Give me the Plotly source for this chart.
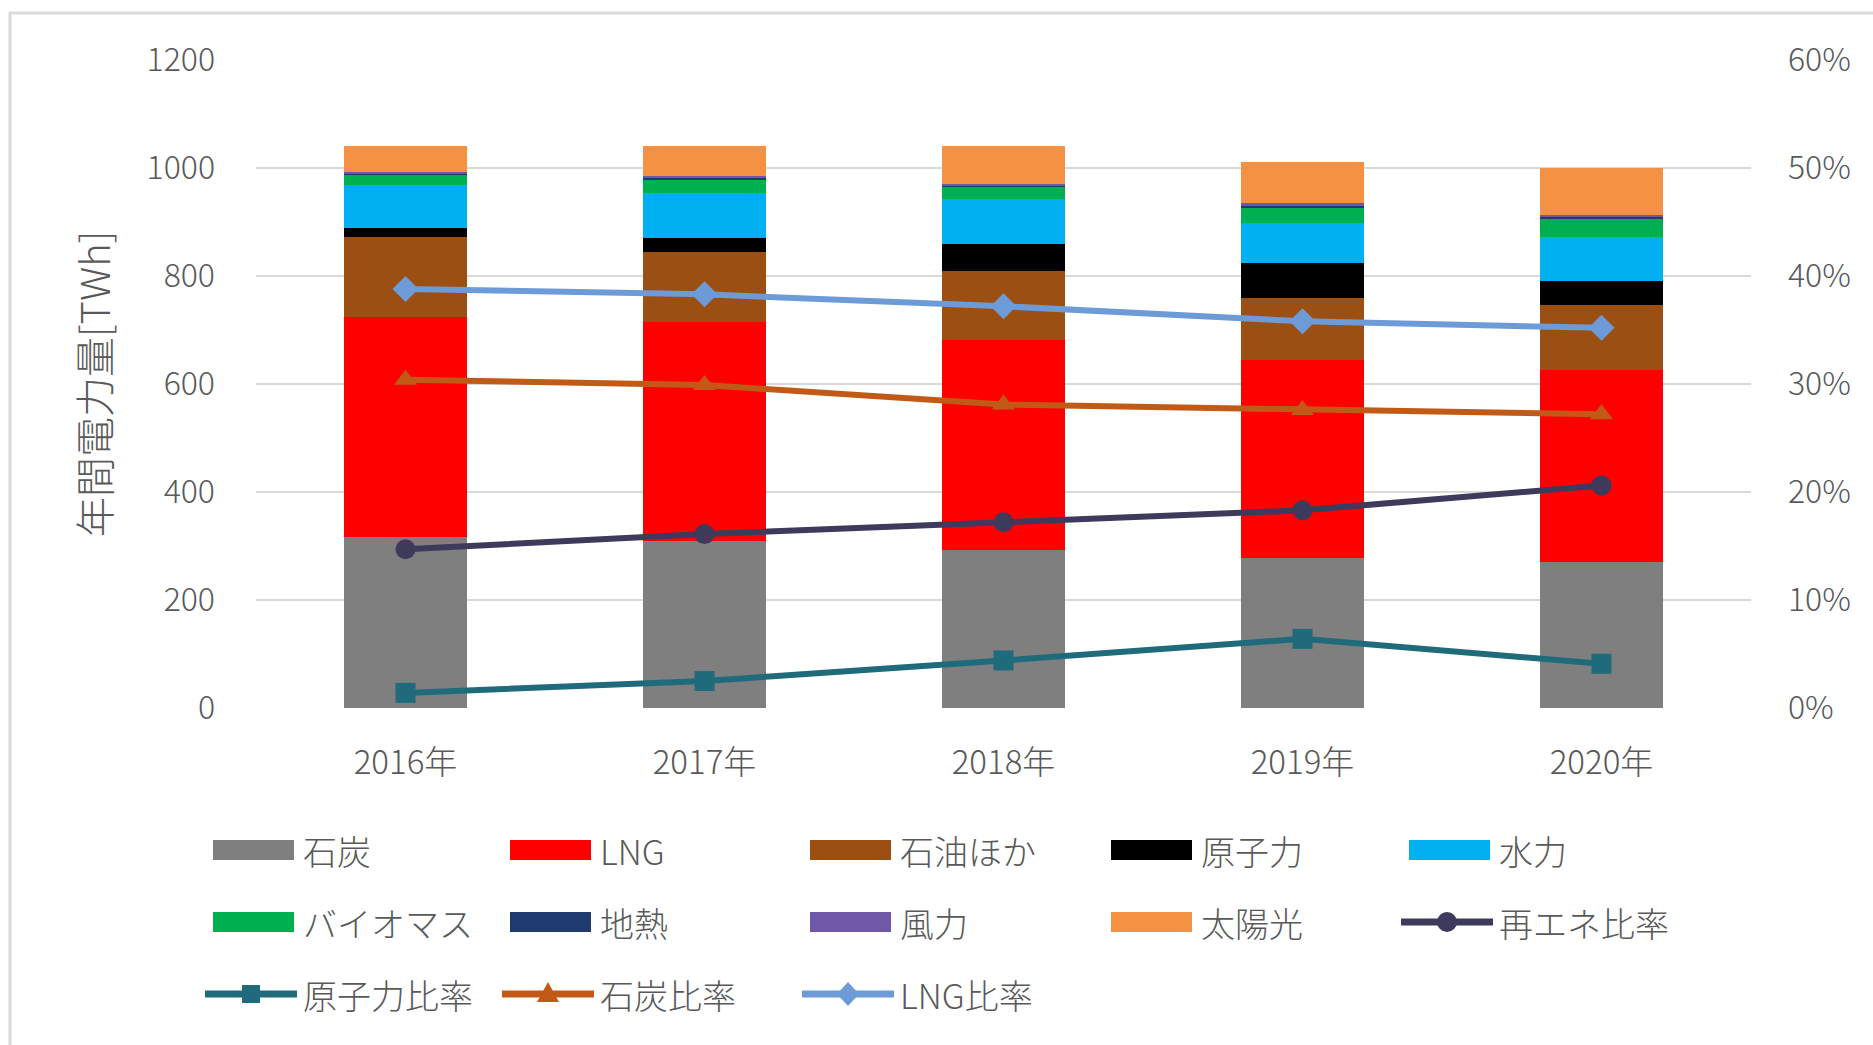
import plotly.graph_objects as go

# ---- data -------------------------------------------------------------
years = ["2016年", "2017年", "2018年", "2019年", "2020年"]

# annual generation by source [TWh]
coal = [317, 310, 292, 278, 270]
lng = [407, 404, 389, 366, 356]
oil = [148, 131, 128, 115, 121]
nuclear = [16, 26, 50, 66, 43]
hydro = [80, 83, 83, 73, 82]
biomass = [20, 25, 24, 28, 34]
geothermal = [2, 2, 2, 3, 3]
wind = [3, 5, 3, 5.5, 4]
solar = [48, 55, 70, 77, 87]

# shares of total generation [%]
renew_ratio = [14.7, 16.1, 17.2, 18.3, 20.6]
nuclear_ratio = [1.4, 2.5, 4.4, 6.4, 4.1]
coal_ratio = [30.4, 29.9, 28.1, 27.6, 27.2]
lng_ratio = [38.8, 38.3, 37.2, 35.8, 35.2]

bar_names = ["石炭", "LNG", "石油ほか", "原子力", "水力", "バイオマス", "地熱", "風力", "太陽光"]
bar_values = [coal, lng, oil, nuclear, hydro, biomass, geothermal, wind, solar]
line_names = ["再エネ比率", "原子力比率", "石炭比率", "LNG比率"]
line_values = [renew_ratio, nuclear_ratio, coal_ratio, lng_ratio]

# ---- styling ----------------------------------------------------------
bar_colors = ["#7f7f7f", "#ff0000", "#9c4f13", "#000000", "#00b0f0",
              "#00b050", "#1f3a6e", "#7058a8", "#f59142"]
line_colors = ["#3d3a5c", "#1f6b7c", "#c25a17", "#6d9bd8"]
line_symbols = ["circle", "square", "triangle-up", "diamond"]

FONT = "Noto Sans CJK JP, Open Sans, sans-serif"
TXT = "#595959"
W, H = 1873, 1045
L, R, T, B = 256, 122, 60, 337
PW, PH = W - L - R, H - T - B
BOTTOM_PX = H - B


def px_x(px):
    return (px - L) / PW


def px_y(py):
    return (BOTTOM_PX - py) / PH


fig = go.Figure()

for name, vals, col in zip(bar_names, bar_values, bar_colors):
    fig.add_trace(go.Bar(x=years, y=vals, name=name, marker=dict(color=col, line=dict(width=0)),
                         showlegend=False))

for name, vals, col, sym in zip(line_names, line_values, line_colors, line_symbols):
    fig.add_trace(go.Scatter(x=years, y=vals, name=name, yaxis="y2", mode="lines+markers",
                             line=dict(color=col, width=6),
                             marker=dict(symbol=sym, size=20, color=col),
                             showlegend=False))

# ---- legend drawn below the plot --------------------------------------
col_x0 = [213, 510, 810, 1111, 1409]
row_y = [850, 922, 994]
entries = [(n, "bar", c, None) for n, c in zip(bar_names, bar_colors)]
entries += [(n, "line", c, s) for n, c, s in zip(line_names, line_colors, line_symbols)]

shapes = []
annotations = []
for i, (name, kind, col, sym) in enumerate(entries):
    r, c = divmod(i, 5)
    x0 = col_x0[c]
    yc = row_y[r]
    if kind == "bar":
        shapes.append(dict(type="rect", xref="paper", yref="paper",
                           x0=px_x(x0), x1=px_x(x0 + 81), y0=px_y(yc - 10), y1=px_y(yc + 10),
                           fillcolor=col, line=dict(width=0)))
    else:
        shapes.append(dict(type="line", xref="paper", yref="paper",
                           x0=px_x(x0 - 8), x1=px_x(x0 + 84), y0=px_y(yc), y1=px_y(yc),
                           line=dict(color=col, width=7)))
        mx = x0 + 38
        s = 10
        if sym == "circle":
            shapes.append(dict(type="circle", xref="paper", yref="paper",
                               x0=px_x(mx - s), x1=px_x(mx + s), y0=px_y(yc + s), y1=px_y(yc - s),
                               fillcolor=col, line=dict(width=0)))
        elif sym == "square":
            shapes.append(dict(type="rect", xref="paper", yref="paper",
                               x0=px_x(mx - 9), x1=px_x(mx + 9), y0=px_y(yc + 9), y1=px_y(yc - 9),
                               fillcolor=col, line=dict(width=0)))
        elif sym == "triangle-up":
            pts = [(mx, yc - 12), (mx + 11, yc + 8), (mx - 11, yc + 8)]
            path = "M " + " L ".join(f"{px_x(a)},{px_y(b)}" for a, b in pts) + " Z"
            shapes.append(dict(type="path", xref="paper", yref="paper", path=path,
                               fillcolor=col, line=dict(width=0)))
        else:
            pts = [(mx, yc - 12), (mx + 11, yc), (mx, yc + 12), (mx - 11, yc)]
            path = "M " + " L ".join(f"{px_x(a)},{px_y(b)}" for a, b in pts) + " Z"
            shapes.append(dict(type="path", xref="paper", yref="paper", path=path,
                               fillcolor=col, line=dict(width=0)))
    annotations.append(dict(text=name, xref="paper", yref="paper",
                            x=px_x(x0 + 88), y=px_y(yc), xanchor="left", yanchor="middle",
                            showarrow=False,
                            font=dict(family=FONT, size=34, color=TXT, weight=300)))

# axis title
annotations.append(dict(text="年間電力量[TWh]", xref="paper", yref="paper",
                        x=px_x(93), y=0.5, xanchor="center", yanchor="middle", textangle=-90,
                        showarrow=False, font=dict(family=FONT, size=40, color=TXT, weight=300)))

# light frame round the chart
shapes.append(dict(type="rect", xref="paper", yref="paper", layer="below",
                   x0=px_x(10), x1=px_x(W + 20), y0=px_y(13), y1=px_y(H + 20),
                   line=dict(color="#d9d9d9", width=3), fillcolor="rgba(0,0,0,0)"))

fig.update_layout(
    width=W, height=H,
    margin=dict(l=L, r=R, t=T, b=B, autoexpand=False),
    barmode="stack", bargap=0.59,
    plot_bgcolor="white", paper_bgcolor="white",
    font=dict(family=FONT, color=TXT),
    showlegend=False,
    xaxis=dict(type="category", showgrid=False, showline=False, zeroline=False,
               ticks="", ticklabelstandoff=32,
               tickfont=dict(size=33, color=TXT, weight=300)),
    yaxis=dict(range=[0, 1200], dtick=200, showgrid=True, gridcolor="#d9d9d9", gridwidth=2,
               zeroline=False, showline=False, ticks="", ticklabelstandoff=40,
               tickfont=dict(size=32, color=TXT, weight=300)),
    yaxis2=dict(range=[0, 60], dtick=10, ticksuffix="%", overlaying="y", side="right",
                showgrid=False, zeroline=False, showline=False, ticks="", ticklabelstandoff=36,
                tickfont=dict(size=32, color=TXT, weight=300)),
    shapes=shapes,
    annotations=annotations,
)

fig.write_html("out.html")
